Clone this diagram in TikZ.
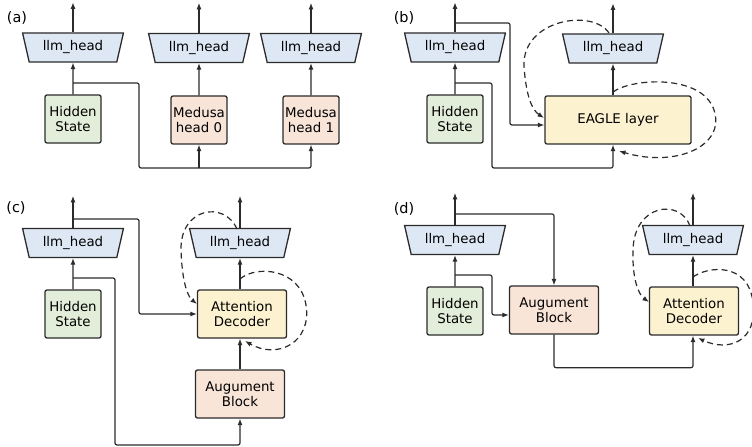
\documentclass[tikz,border=0pt]{standalone}
\usepackage{fontspec}
\setmainfont{DejaVu Sans}
\usetikzlibrary{shapes.geometric,arrows.meta}
\definecolor{headfill}{HTML}{DEE8F5}
\definecolor{statefill}{HTML}{E3EEDA}
\definecolor{blockfill}{HTML}{F9E4D8}
\definecolor{decfill}{HTML}{FDF2CF}
\definecolor{edge}{HTML}{2B2B2B}
\tikzset{
  head/.style={trapezium, trapezium stretches=true, shape border rotate=180,
    trapezium angle=71, minimum width=101bp, minimum height=29bp, inner sep=0pt,
    draw=edge, line width=1.3bp, fill=headfill},
  box/.style={rectangle, rounded corners=2bp, draw=edge, line width=1.3bp,
    minimum width=56bp, minimum height=48bp, inner sep=0pt, align=center},
  wide/.style={box, minimum width=89bp},
  arr/.style={-{Latex[length=6.5bp,width=5bp]}, draw=edge, line width=1.2bp, rounded corners=2bp},
  loop/.style={arr, dash pattern=on 6bp off 4bp, rounded corners=0pt},
  panel/.style={font=\fontsize{14.5}{17}\selectfont}
}
\begin{document}
\begin{tikzpicture}[x=1bp, y=-1bp, font=\fontsize{13.4}{15.5}\selectfont]
      \useasboundingbox (0,0) rectangle (752,447);
      % (a)
      \draw
        (17,18) node[panel] (la){(a)}
        (73,47.5) node[head] (ha1){llm\_head}
        (199,48) node[head] (ha2){llm\_head}
        (311,48) node[head] (ha3){llm\_head}
        (73,119) node[box, fill=statefill] (hsa){Hidden\\State}
        (199,120) node[box, fill=blockfill] (ma0){Medusa\\head 0}
        (311,120) node[box, fill=blockfill] (ma1){Medusa\\head 1};
      \coordinate (ja) at (73,83);
      \coordinate (ka) at (199,168);
      \begin{scope}
        \draw[arr] (hsa.north) -- (ha1.south);
        \draw[arr] (ma0.north) -- (ha2.south);
        \draw[arr] (ma1.north) -- (ha3.south);
        \draw[arr] (ha1.north) -- ++(0,-30);
        \draw[arr] (ha2.north) -- ++(0,-30);
        \draw[arr] (ha3.north) -- ++(0,-30);
        \draw[arr] (ja) -| (139,168) -| (ma1.south);
        \draw[arr] (ka) -- (ma0.south);
      \end{scope}
      % (b)
      \draw
        (404,18) node[panel] (lb){(b)}
        (455,47.5) node[head] (hb1){llm\_head}
        (613,48.5) node[head] (hb2){llm\_head}
        (455,119) node[box, fill=statefill] (hsb){Hidden\\State}
        (618,120) node[box, fill=decfill, minimum width=146bp] (eagle){EAGLE layer};
      \coordinate (jb) at (455,83);
      \coordinate (tb) at (455,23);
      \begin{scope}
        \draw[arr] (hsb.north) -- (hb1.south);
        \draw[arr] (hb2.south |- eagle.north) -- (hb2.south);
        \draw[arr] (hb1.north) -- ++(0,-30);
        \draw[arr] (hb2.north) -- ++(0,-30);
        \draw[arr] (tb) -| (510,125) -- ([yshift=-5bp]eagle.west);
        \draw[arr] (jb) -| (492,168) -| (hb2.south |- eagle.south);
        \draw[loop] (609,33) .. controls (592,8) and (522,20) .. (524,66)
          .. controls (526,96) and (532,110) .. (544,118);
        \draw[loop] (613,92) .. controls (632,78) and (702,74) .. (714,110)
          .. controls (726,146) and (676,168) .. (619,151);
      \end{scope}
      % (c)
      \draw
        (16,208) node[panel] (lc){(c)}
        (73,243) node[head] (hc1){llm\_head}
        (240,243) node[head] (hc2){llm\_head}
        (73,314) node[box, fill=statefill] (hsc){Hidden\\State}
        (242,314) node[wide, fill=decfill] (attc){Attention\\Decoder}
        (240,394) node[wide, fill=blockfill] (augc){Augument\\Block};
      \coordinate (jc) at (73,278);
      \coordinate (tc) at (73,219);
      \begin{scope}
        \draw[arr] (hsc.north) -- (hc1.south);
        \draw[arr] (hc2.south |- attc.north) -- (hc2.south);
        \draw[arr] (augc.north) -- (augc.north |- attc.south);
        \draw[arr] (hc1.north) -- ++(0,-32);
        \draw[arr] (hc2.north) -- ++(0,-32);
        \draw[arr] (tc) -| (139,314) -- (attc.west);
        \draw[arr] (jc) -| (115,445) -| (augc.south);
        \draw[loop] (237,229) .. controls (224,200) and (180,208) .. (181,250)
          .. controls (182,280) and (187,296) .. (197,304);
        \draw[loop] (240,279) .. controls (256,265) and (300,268) .. (306,305)
          .. controls (312,342) and (278,360) .. (245,341);
      \end{scope}
      % (d)
      \draw
        (404,209) node[panel] (ld){(d)}
        (455,240) node[head] (hd1){llm\_head}
        (693,240) node[head] (hd2){llm\_head}
        (455,311) node[box, fill=statefill] (hsd){Hidden\\State}
        (554,310) node[wide, fill=blockfill] (augd){Augument\\Block}
        (694,311) node[wide, fill=decfill] (attd){Attention\\Decoder};
      \coordinate (jd) at (455,275);
      \coordinate (td) at (455,214);
      \begin{scope}
        \draw[arr] (hsd.north) -- (hd1.south);
        \draw[arr] (hd2.south |- attd.north) -- (hd2.south);
        \draw[arr] (hd1.north) -- ++(0,-32);
        \draw[arr] (hd2.north) -- ++(0,-32);
        \draw[arr] (td) -| (augd.north);
        \draw[arr] (jd) -| (492,315) -- ([yshift=-5bp]augd.west);
        \draw[arr] (augd.south) -- ++(0,33) -| (hd2.south |- attd.south);
        \draw[loop] (690,226) .. controls (680,198) and (634,204) .. (633,250)
          .. controls (632,280) and (639,295) .. (649,302);
        \draw[loop] (693,277) .. controls (708,266) and (748,262) .. (753,302)
          .. controls (758,342) and (728,352) .. (698,338);
      \end{scope}
    \end{tikzpicture}
\end{document}
